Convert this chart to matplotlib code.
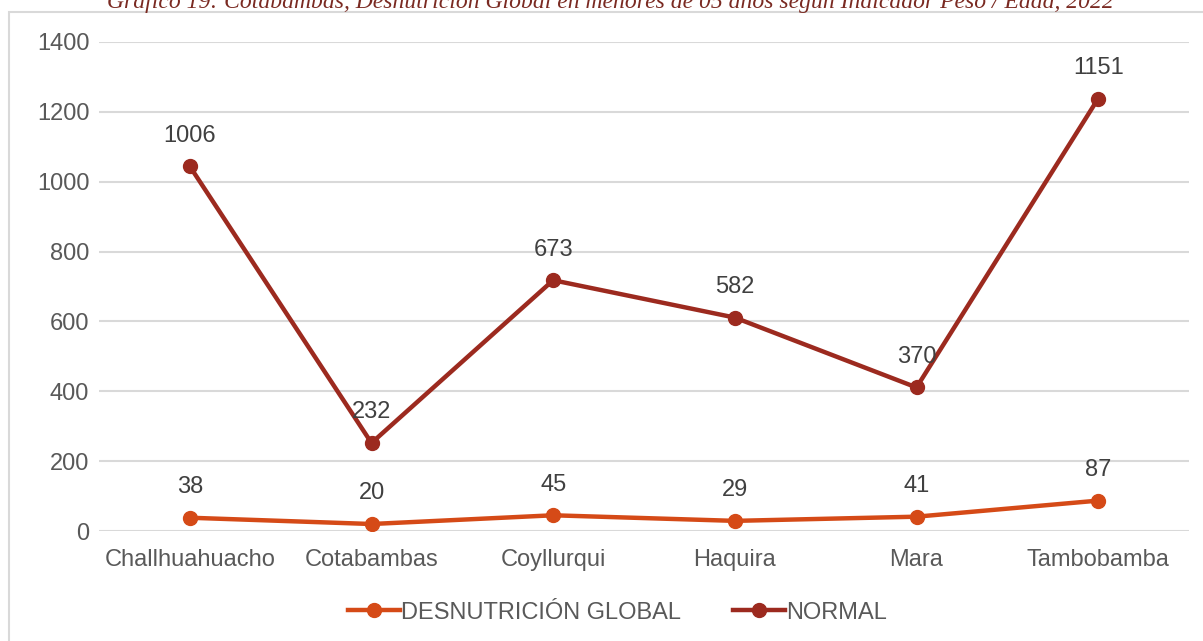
import matplotlib.pyplot as plt
import numpy as np
from matplotlib.patches import Rectangle

distritos = ['Challhuahuacho', 'Cotabambas', 'Coyllurqui', 'Haquira', 'Mara', 'Tambobamba']
desnutricion = [38, 20, 45, 29, 41, 87]
normal = [1006, 232, 673, 582, 370, 1151]
yticks = [0, 200, 400, 600, 800, 1000, 1200, 1400]

titulo = 'Gráfico 19: Cotabambas, Desnutrición Global en menores de 05 años según Indicador Peso / Edad, 2022'

c_desn = '#d54a17'
c_norm = '#9c2a1f'

plt.rcParams['font.family'] = ['Liberation Sans', 'DejaVu Sans']

fig = plt.figure(figsize=(12.03, 6.41), dpi=100)
fig.patches.append(Rectangle((9 / 1203, -0.1), 1.2, 1.1 - 12 / 641,
                             transform=fig.transFigure, fill=False,
                             edgecolor='#d9d9d9', linewidth=1.5))
ax = fig.add_axes([99 / 1203, 1 - 531 / 641, 1090 / 1203, 489 / 641])

x = np.arange(len(distritos))
# stacked line chart: NORMAL drawn on top of DESNUTRICIÓN
total = np.array(desnutricion) + np.array(normal)

ax.plot(x, desnutricion, '-o', color=c_desn, linewidth=3.2, markersize=10,
        label='DESNUTRICIÓN GLOBAL', zorder=3)
ax.plot(x, total, '-o', color=c_norm, linewidth=3.2, markersize=10,
        label='NORMAL', zorder=3)

for xi, yv, lab in zip(x, desnutricion, desnutricion):
    ax.annotate(str(lab), (xi, yv), xytext=(0, 22), textcoords='offset points',
                ha='center', va='center', fontsize=17, color='#404040')
for xi, yv, lab in zip(x, total, normal):
    ax.annotate(str(lab), (xi, yv), xytext=(0, 22), textcoords='offset points',
                ha='center', va='center', fontsize=17, color='#404040')

ax.set_xlim(-0.5, len(distritos) - 0.5)
ax.set_ylim(0, 1400)
ax.set_yticks(yticks)
ax.set_xticks(x)
ax.set_xticklabels(distritos)
ax.tick_params(axis='both', length=0, labelsize=17, labelcolor='#595959')
ax.tick_params(axis='x', pad=13)
ax.tick_params(axis='y', pad=7)
ax.grid(axis='y', color='#d9d9d9', linewidth=1.5)
ax.set_axisbelow(True)
for s in ax.spines.values():
    s.set_visible(False)

leg = ax.legend(loc='center', bbox_to_anchor=(0.476, -0.167), ncol=2, frameon=False,
                fontsize=17, handlelength=2.2, handletextpad=0.05, columnspacing=2.2,
                labelcolor='#595959')

fig.text(0.507, 1 - 8 / 641, titulo, ha='center', va='baseline', fontsize=17,
         style='italic', color='#7a2a22', family=['Liberation Serif', 'DejaVu Serif'])

fig.savefig('out.png', dpi=100)
